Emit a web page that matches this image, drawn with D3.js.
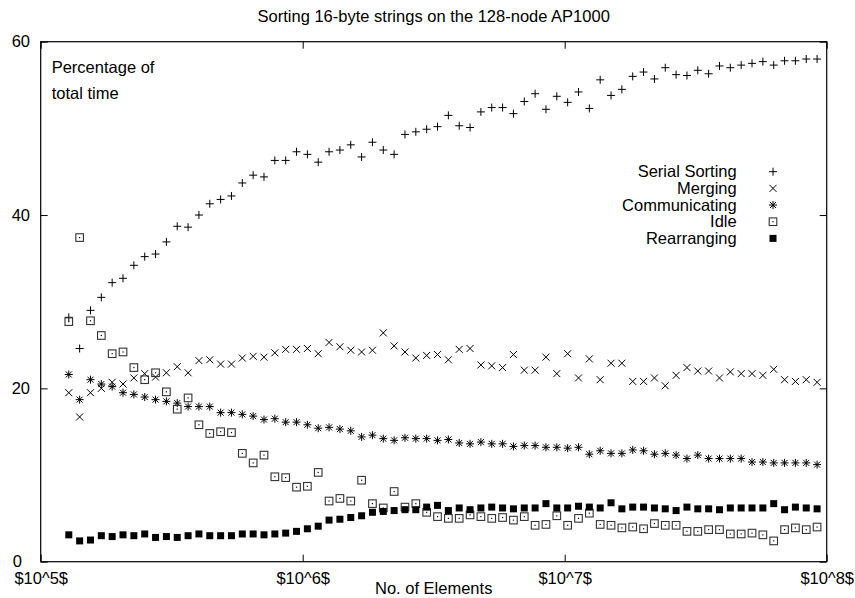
<!DOCTYPE html>
<html><head><meta charset="utf-8">
<script src="https://cdn.jsdelivr.net/npm/d3@7"></script>
<style>
body{margin:0;background:#fff}
text{font-family:"Liberation Sans",Arial,Helvetica,sans-serif;fill:#000}
</style>
</head><body>
<svg id="c" width="855" height="598"></svg>
<script>
// Number of elements (x positions, log scale)
const elements = [128000,140800,154880,170368,187405,206145,226760,249436,274379,301817,
  331999,365199,401719,441891,486080,534688,588157,646972,711670,782837,
  861120,947232,1041956,1146151,1260766,1386843,1525527,1678080,1845888,2030477,
  2233525,2456877,2702565,2972822,3270104,3597114,3956826,4352508,4787759,5266535,
  5793188,6372507,7009758,7710734,8481807,9329988,10262987,11289286,12418214,13660036,
  15026039,16528643,18181508,19999658,21999624,24199587,26619545,29281500,32209650,35430615,
  38973676,42871044,47158148,51873963,57061359,62767495,69044245,75948669,83543536,91897890];

const serialSorting = [28.2,24.6,29.0,30.5,32.2,32.7,34.2,35.2,35.5,36.9,
  38.7,38.6,40.0,41.3,41.8,42.2,43.7,44.6,44.4,46.3,
  46.3,47.3,47.0,46.1,47.3,47.5,48.1,46.7,48.4,47.5,
  47.0,49.3,49.6,49.9,50.2,51.5,50.3,50.1,51.9,52.4,
  52.4,51.7,53.1,54.0,52.2,53.7,53.0,54.2,52.3,55.6,
  53.8,54.5,56.0,56.5,55.7,57.0,56.2,56.1,56.7,56.3,
  57.2,57.0,57.3,57.5,57.7,57.3,57.8,57.8,58.0,58.0];

const merging = [19.5,16.7,19.5,20.0,20.7,20.5,21.2,21.7,21.3,21.8,
  22.5,21.8,23.2,23.3,22.8,22.8,23.5,23.7,23.6,24.1,
  24.5,24.5,24.6,24.0,25.3,24.8,24.4,24.2,24.4,26.4,
  24.9,24.2,23.5,23.8,23.9,23.3,24.5,24.6,22.7,22.6,
  22.4,23.9,22.1,22.1,23.6,21.7,24.0,21.2,23.4,21.0,
  22.9,22.9,20.8,20.8,21.2,20.3,21.5,22.4,22.0,22.0,
  21.2,21.9,21.7,21.7,21.5,22.2,21.0,20.8,21.0,20.7];

const communicating = [21.6,18.7,21.0,20.5,20.2,19.5,19.3,19.0,18.7,18.5,
  18.3,17.9,17.9,17.9,17.2,17.2,17.0,16.8,16.4,16.5,
  16.1,16.1,15.8,15.4,15.5,15.3,15.1,14.4,14.6,14.2,
  14.0,14.3,14.2,14.2,14.0,14.1,13.7,13.6,13.8,13.6,
  13.6,13.3,13.4,13.4,13.2,13.2,13.1,13.2,12.4,12.8,
  12.5,12.5,12.9,12.8,12.4,12.5,12.3,11.9,12.3,11.9,
  11.9,11.9,11.9,11.5,11.5,11.4,11.4,11.4,11.4,11.2];

const idle = [27.7,37.4,27.8,26.1,24.0,24.2,22.4,21.0,21.8,19.6,
  17.6,18.9,15.8,14.8,15.0,14.9,12.5,11.4,12.3,9.8,
  9.7,8.6,8.7,10.3,7.0,7.3,7.0,9.4,6.7,6.2,
  8.1,6.3,6.7,5.7,5.2,5.0,5.0,5.4,5.2,5.0,
  5.1,4.8,5.2,4.2,4.3,5.3,4.2,5.0,5.6,4.3,
  4.2,3.9,4.0,3.8,4.4,4.2,4.2,3.5,3.5,3.7,
  3.7,3.2,3.2,3.3,3.1,2.4,3.7,3.9,3.7,4.0];

const rearranging = [3.1,2.4,2.5,3.0,2.9,3.1,3.0,3.2,2.8,2.9,
  2.8,3.0,3.2,3.0,3.0,3.0,3.2,3.2,3.1,3.2,
  3.3,3.5,3.8,4.1,4.8,4.9,5.1,5.3,5.7,5.8,
  5.9,6.0,6.0,6.3,6.5,5.9,6.2,6.0,6.2,6.3,
  6.2,6.1,6.2,6.2,6.7,6.2,6.2,6.4,6.3,6.2,
  6.8,6.1,6.3,6.3,6.2,6.1,5.9,6.3,6.1,6.1,
  6.0,6.2,6.2,6.2,6.2,6.7,6.0,6.3,6.2,6.1];

const seriesNames = ["Serial Sorting","Merging","Communicating","Idle","Rearranging"];
const yTicks = [0,20,40,60];
const xTicks = [1e5,1e6,1e7,1e8];
const xTickLabels = ["$10^5$","$10^6$","$10^7$","$10^8$"];
const titleText = "Sorting 16-byte strings on the 128-node AP1000";
const yLabelLines = ["Percentage of","total time"];
const xLabelText = "No. of Elements";

const series = [
  {name: seriesNames[0], values: serialSorting, sym: "plus"},
  {name: seriesNames[1], values: merging, sym: "cross"},
  {name: seriesNames[2], values: communicating, sym: "star"},
  {name: seriesNames[3], values: idle, sym: "box"},
  {name: seriesNames[4], values: rearranging, sym: "fbox"}
];

const svg = d3.select("#c");
const m = {l: 40.7, r: 826.7, t: 41.7, b: 561.7};
const x = d3.scaleLog().domain([1e5, 1e8]).range([m.l, m.r]);
const y = d3.scaleLinear().domain([0, 60]).range([m.b, m.t]);
const FS = 16.5;

function drawSym(g, sym) {
  if (sym === "plus") {
    g.append("path").attr("d", "M-4,0H4M0,-4V4").attr("stroke", "#000").attr("stroke-width", 1).attr("fill", "none");
  } else if (sym === "cross") {
    g.append("path").attr("d", "M-3.5,-3.5L3.5,3.5M-3.5,3.5L3.5,-3.5").attr("stroke", "#000").attr("stroke-width", 1).attr("fill", "none");
  } else if (sym === "star") {
    g.append("path").attr("d", "M-4,0H4M0,-4V4M-3,-3L3,3M-3,3L3,-3").attr("stroke", "#000").attr("stroke-width", 1).attr("fill", "none");
  } else if (sym === "box") {
    g.append("rect").attr("x", -3.8).attr("y", -3.8).attr("width", 7.6).attr("height", 7.6)
      .attr("stroke", "#333").attr("stroke-width", 1.1).attr("fill", "none");
    g.append("rect").attr("x", -0.6).attr("y", -0.6).attr("width", 1.2).attr("height", 1.2).attr("fill", "#000");
  } else if (sym === "fbox") {
    g.append("rect").attr("x", -3.5).attr("y", -3.5).attr("width", 7).attr("height", 7).attr("fill", "#000");
  }
}

// Axes
const axL = svg.append("g").attr("transform", `translate(${m.l},0)`)
  .call(d3.axisLeft(y).tickValues(yTicks).tickSize(-7).tickPadding(10.7));
axL.selectAll("text").filter(d => d === 0).attr("x", -18.7);
const axR = svg.append("g").attr("transform", `translate(${m.r},0)`)
  .call(d3.axisRight(y).tickValues(yTicks).tickSize(-7).tickFormat(""));
const axB = svg.append("g").attr("transform", `translate(0,${m.b})`)
  .call(d3.axisBottom(x).tickValues(xTicks).tickSize(-7).tickPadding(10.3)
    .tickFormat((d, i) => xTickLabels[i]));
const axT = svg.append("g").attr("transform", `translate(0,${m.t})`)
  .call(d3.axisTop(x).tickValues(xTicks).tickSize(-7).tickFormat(""));
[axL, axR, axB, axT].forEach(a => {
  a.select(".domain").remove();
  a.selectAll("text").attr("font-size", FS).attr("font-family", null);
  a.selectAll("line").attr("stroke", "#000");
});

svg.append("rect").attr("x", m.l).attr("y", m.t).attr("width", m.r - m.l).attr("height", m.b - m.t)
  .attr("fill", "none").attr("stroke", "#000").attr("stroke-width", 1.2);

// Title & labels
svg.append("text").attr("x", (m.l + m.r) / 2).attr("y", 22).attr("text-anchor", "middle")
  .attr("font-size", FS).text(titleText);
svg.append("text").attr("x", (m.l + m.r) / 2).attr("y", 594).attr("text-anchor", "middle")
  .attr("font-size", FS).text(xLabelText);
yLabelLines.forEach((t, i) => {
  svg.append("text").attr("x", 51.7).attr("y", 72.7 + i * 26.6).attr("font-size", FS).text(t);
});

// Points
series.forEach(s => {
  const g = svg.append("g").attr("class", "series");
  s.values.forEach((v, i) => {
    const p = g.append("g").attr("transform", `translate(${x(elements[i])},${y(v)})`);
    drawSym(p, s.sym);
  });
});

// Legend
series.forEach((s, i) => {
  const by = 177.3 + i * 16.67;
  svg.append("text").attr("x", 736.7).attr("y", by).attr("text-anchor", "end")
    .attr("font-size", FS).text(s.name);
  const p = svg.append("g").attr("transform", `translate(773,${by - 5.6})`);
  drawSym(p, s.sym);
});
</script>
</body></html>
